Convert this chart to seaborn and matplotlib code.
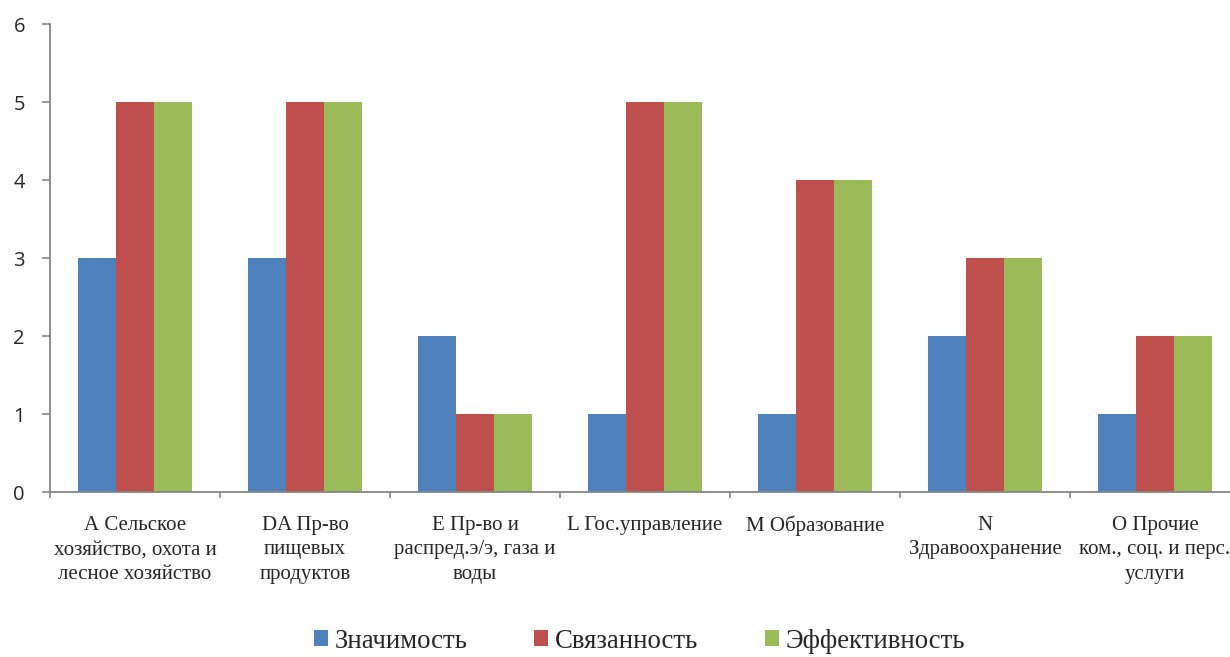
import matplotlib
matplotlib.use("Agg")
import matplotlib.pyplot as plt
from matplotlib.patches import Patch
from matplotlib.ticker import FixedLocator
import seaborn as sns
import pandas as pd

categories = [
    "А Сельское\nхозяйство, охота и\nлесное хозяйство",
    "DA Пр-во\nпищевых\nпродуктов",
    "E Пр-во и\nраспред.э/э, газа и\nводы",
    "L Гос.управление",
    "M Образование",
    "N\nЗдравоохранение",
    "O Прочие\nком., соц. и перс.\nуслуги",
]
series_names = ["Значимость", "Связанность", "Эффективность"]
znachimost = [3, 3, 2, 1, 1, 2, 1]
svyazannost = [5, 5, 1, 5, 4, 3, 2]
effektivnost = [5, 5, 1, 5, 4, 3, 2]
y_ticks = [0, 1, 2, 3, 4, 5, 6]

colors = ["#4F81BD", "#C0504D", "#9BBB59"]
axis_grey = "#868686"

rows = []
for name, vals in zip(series_names, [znachimost, svyazannost, effektivnost]):
    for cat, v in zip(categories, vals):
        rows.append({"cat": cat, "series": name, "value": v})
df = pd.DataFrame(rows)

sns.set_style("white")
fig = plt.figure(figsize=(12.3, 6.57), dpi=100)
# the plot area runs slightly past the right edge of the canvas
ax = fig.add_axes([0.04065, 0.2511, 0.9675, 0.7123])

sns.barplot(data=df, x="cat", y="value", hue="series", order=categories,
            hue_order=series_names, palette=colors, width=0.67, gap=0,
            saturation=1, linewidth=0, ax=ax, legend=False)

n = len(categories)
ax.set_xlim(-0.5, n - 0.5)
ax.set_ylim(0, 6)
ax.set_yticks(y_ticks)
ax.set_yticklabels([str(t) for t in y_ticks], fontsize=14.5,
                   fontfamily="Open Sans")
ax.set_xlabel("")
ax.set_ylabel("")

# category labels centred, tick marks at group boundaries
ax.tick_params(axis="x", which="major", bottom=False, length=0, pad=17)
ax.xaxis.set_minor_locator(FixedLocator([i - 0.5 for i in range(n + 1)]))
ax.tick_params(axis="x", which="minor", bottom=True, length=4.5, width=1.2,
               color=axis_grey, direction="out")
ax.tick_params(axis="y", left=True, length=6, width=1.2, color=axis_grey,
               direction="out", pad=12)
for lbl in ax.get_xticklabels():
    lbl.set_fontfamily("Liberation Serif")
    lbl.set_fontsize(15)
    lbl.set_linespacing(1.4)
    lbl.set_verticalalignment("top")

for side in ["top", "right"]:
    ax.spines[side].set_visible(False)
for side in ["left", "bottom"]:
    ax.spines[side].set_color(axis_grey)
    ax.spines[side].set_linewidth(1.3)

handles = [Patch(facecolor=c, edgecolor="none") for c in colors]
fig.legend(handles, series_names, loc="center", bbox_to_anchor=(0.52, 0.024),
           ncol=3, frameon=False, handlelength=0.52, handleheight=0.52,
           handletextpad=0.25, columnspacing=2.5,
           prop={"family": "Liberation Serif", "size": 19.3})

fig.savefig("out.png", dpi=100)
